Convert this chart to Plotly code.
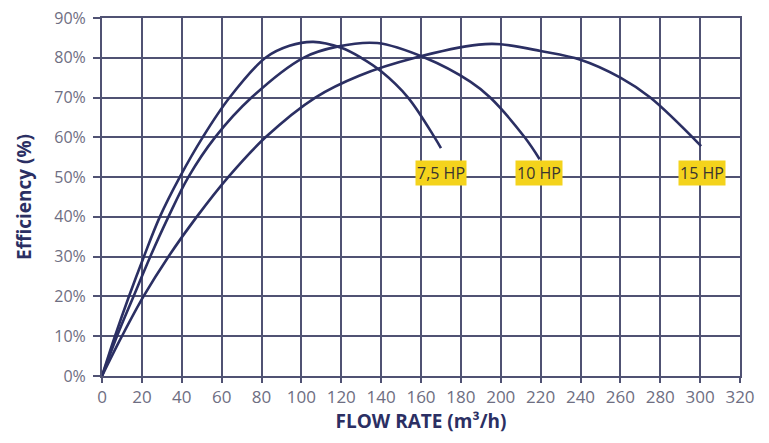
import plotly.graph_objects as go

# Flow rate (m3/h) and efficiency (%)
hp75_flow = [0, 6.5, 13.5, 21, 29, 39, 50.5, 64, 82, 94, 106, 120, 130, 140, 153.5, 166.8, 170]
hp75_eff = [0, 10, 20, 30, 40, 50, 60, 70, 80, 83, 84, 82.5, 80, 76.6, 70, 60, 57.3]

hp10_flow = [0, 7.5, 15.8, 24.2, 33.3, 43.3, 56.7, 75, 101, 118, 138, 162, 184.7, 194.7, 212, 219.5]
hp10_eff = [0, 10, 20, 30, 40, 50, 60, 70, 80, 82.8, 83.7, 80, 74, 70, 60, 54.5]

hp15_flow = [0, 10, 20.8, 33.3, 47.5, 63.3, 82, 107, 129, 157, 189, 200, 220, 240, 260, 275, 300.5]
hp15_eff = [0, 10, 20, 30, 40, 50, 60, 70, 75.5, 80, 83.3, 83.4, 81.7, 79.5, 75, 70, 57.8]

labels = ["7,5 HP", "10 HP", "15 HP"]
label_x = [170, 219, 301]
label_y = [51, 51, 51]

x_ticks = list(range(0, 321, 20))
y_ticks = list(range(0, 91, 10))

CURVE = "#2b2f63"
GRID = "#505273"
TICKTXT = "#6e6e82"
FONT = "Open Sans, Lato, sans-serif"

fig = go.Figure()
for fx, fy in [(hp75_flow, hp75_eff), (hp10_flow, hp10_eff), (hp15_flow, hp15_eff)]:
    fig.add_trace(go.Scatter(x=fx, y=fy, mode="lines",
                             line=dict(color=CURVE, width=2.6, shape="spline", smoothing=1.0),
                             showlegend=False, hoverinfo="skip"))

for t, lx, ly in zip(labels, label_x, label_y):
    fig.add_annotation(x=lx, y=ly, text=t, showarrow=False,
                       font=dict(family=FONT, size=16, color="#3a3530"),
                       bgcolor="#f4d31c", borderpad=1, xanchor="center", yanchor="middle")

fig.update_layout(
    width=761, height=435,
    margin=dict(l=94, r=29, t=10, b=67),
    paper_bgcolor="white", plot_bgcolor="white",
    font=dict(family=FONT),
)
fig.update_xaxes(
    range=[0, 320], tickvals=x_ticks, ticktext=[str(v) for v in x_ticks],
    showgrid=True, gridcolor=GRID, gridwidth=2,
    showline=True, linecolor=GRID, linewidth=2, mirror=True,
    ticks="outside", ticklen=5, tickcolor=GRID, tickwidth=2,
    tickfont=dict(size=17, color=TICKTXT), ticklabeloverflow="allow",
    zeroline=False, automargin=False,
    title=dict(text="<b>FLOW RATE (m³/h)</b>", font=dict(size=19, color=CURVE), standoff=3),
)
fig.update_yaxes(
    range=[0, 90], tickvals=y_ticks, ticktext=[f"{v}%" for v in y_ticks],
    showgrid=True, gridcolor=GRID, gridwidth=2,
    showline=True, linecolor=GRID, linewidth=2, mirror=True,
    ticks="outside", ticklen=7, tickcolor=GRID, tickwidth=2,
    tickfont=dict(size=16, color=TICKTXT), ticklabelstandoff=4, ticklabeloverflow="allow",
    zeroline=False, automargin=False,
    title=dict(text="<b>Efficiency (%)</b>", font=dict(size=19, color=CURVE), standoff=18),
)

fig.write_html("out.html")
